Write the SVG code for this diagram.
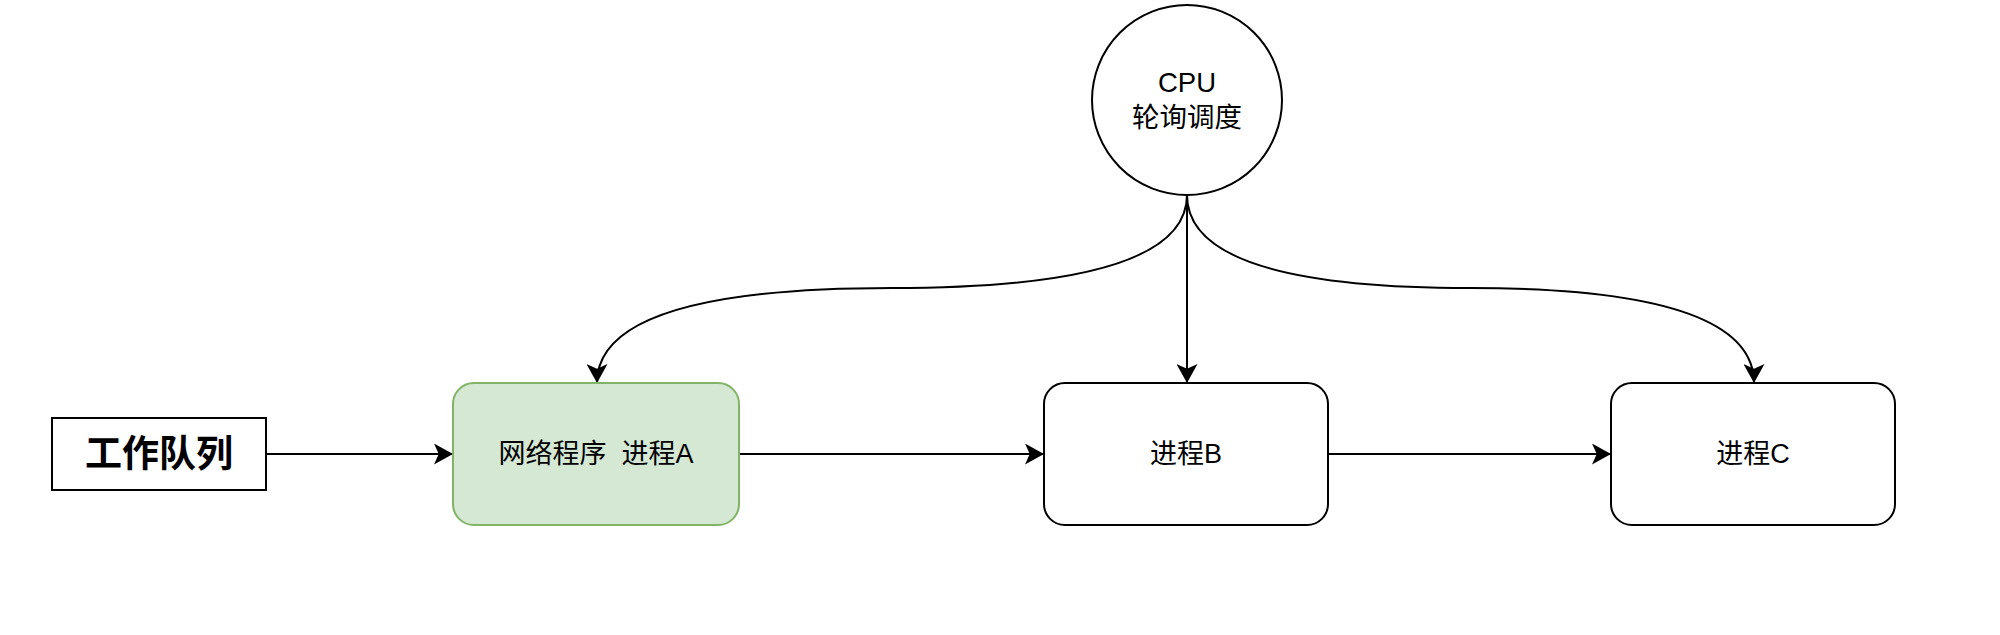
<svg xmlns="http://www.w3.org/2000/svg" width="2000" height="635" viewBox="0 0 2000 635">
<defs>
<style>
.node{fill:#ffffff;stroke:#000000;stroke-width:2}
.green{fill:#d5e8d4;stroke:#82b366;stroke-width:2}
.edge{fill:none;stroke:#000000;stroke-width:2}
.t{font-family:"Liberation Sans","Noto Sans CJK SC",sans-serif;font-size:27px;fill:#000000;text-anchor:middle}
.tc{font-family:"Liberation Sans","Noto Sans CJK SC",sans-serif;font-size:27.5px;fill:#000000;text-anchor:middle}
.tb{font-family:"Liberation Sans","Noto Sans CJK SC",sans-serif;font-size:37px;font-weight:bold;fill:#000000;text-anchor:middle}
</style>
<marker id="arr" markerWidth="19" markerHeight="21" refX="19" refY="10.5" orient="auto" markerUnits="userSpaceOnUse">
<path d="M0,0 L19,10.5 L0,21 L4.75,10.5 Z" fill="#000000"/>
</marker>
</defs>
<rect x="0" y="0" width="2000" height="635" fill="#ffffff"/>
<g id="connectors">
<path class="edge" d="M266,454 L453,454" marker-end="url(#arr)"/>
<path class="edge" d="M739,454 L1044,454" marker-end="url(#arr)"/>
<path class="edge" d="M1328,454 L1611,454" marker-end="url(#arr)"/>
<path class="edge" d="M1187,195 L1187,383" marker-end="url(#arr)"/>
<path class="edge" d="M1187,195 Q1187,288 892,288 Q597,288 597,383" marker-end="url(#arr)"/>
<path class="edge" d="M1187,195 Q1187,288 1470,288 Q1754,288 1754,383" marker-end="url(#arr)"/>
</g>
<g id="cpu">
<circle class="node" cx="1187" cy="100" r="95"/>
<text class="tc" x="1187" y="92">CPU</text>
<text class="tc" x="1187" y="127">轮询调度</text>
</g>
<g id="queue">
<rect class="node" x="52" y="418" width="214" height="72"/>
<text class="tb" x="159" y="467">工作队列</text>
</g>
<g id="procA">
<rect class="green" x="453" y="383" width="286" height="142" rx="21" ry="21"/>
<text class="t" x="596" y="463" xml:space="preserve">网络程序  进程A</text>
</g>
<g id="procB">
<rect class="node" x="1044" y="383" width="284" height="142" rx="21" ry="21"/>
<text class="t" x="1186" y="463">进程B</text>
</g>
<g id="procC">
<rect class="node" x="1611" y="383" width="284" height="142" rx="21" ry="21"/>
<text class="t" x="1753" y="463">进程C</text>
</g>
</svg>
